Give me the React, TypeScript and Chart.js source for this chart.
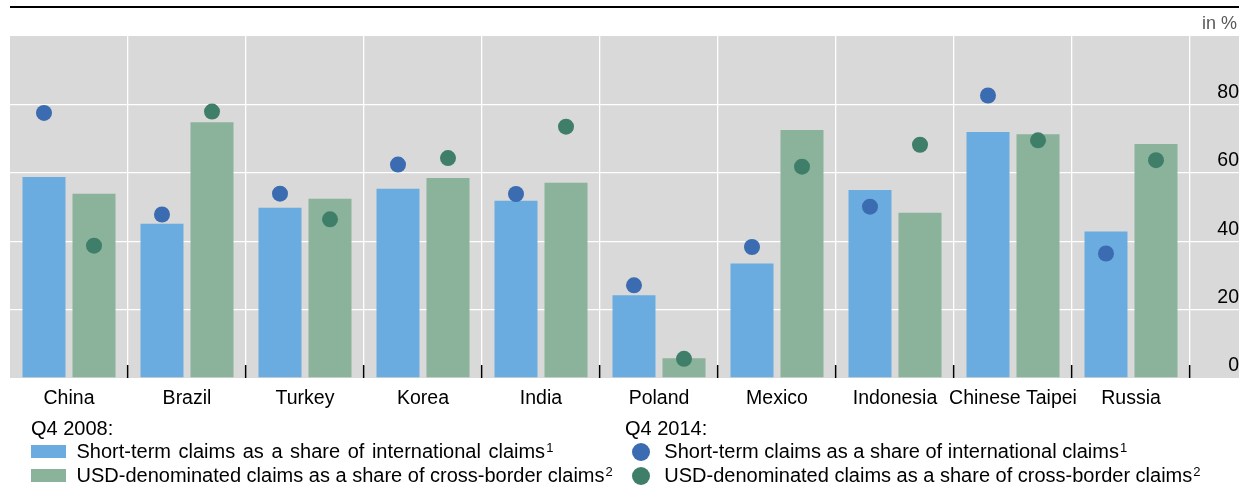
import React, { useEffect, useRef } from 'react';
import { Chart, registerables } from 'chart.js';

Chart.register(...registerables);

// ---------- data ----------
const categories = ['China', 'Brazil', 'Turkey', 'Korea', 'India', 'Poland', 'Mexico', 'Indonesia', 'Chinese Taipei', 'Russia'];
const shortTerm2008 = [58.8, 45.1, 49.8, 55.3, 51.8, 24.2, 33.5, 55.0, 71.9, 42.8];
const usd2008 = [53.9, 74.8, 52.4, 58.5, 57.1, 5.8, 72.5, 48.3, 71.3, 68.4];
const shortTerm2014 = [77.5, 47.8, 53.9, 62.4, 53.8, 27.1, 38.3, 50.1, 82.6, 36.4];
const usd2014 = [38.7, 77.9, 46.4, 64.3, 73.5, 5.6, 61.8, 68.2, 69.5, 63.7];
const yTicks = [0, 20, 40, 60, 80];
const yMin = 0;
const yMax = 100;

const legendShort = 'Short-term claims as a share of international claims';
const legendUsd = 'USD-denominated claims as a share of cross-border claims';

// ---------- style ----------
const FONT = "'Liberation Sans', Arial, Helvetica, sans-serif";
const BLUE_BAR = '#6aace0';
const GREEN_BAR = '#8bb29b';
const BLUE_DOT = '#3b6bb0';
const GREEN_DOT = '#3f7f6a';
const PANEL = '#d9d9d9';
const TRANSPARENT = 'rgba(0,0,0,0)';
const GROUP_SHIFT = 0.2119; // half distance between the paired marks, in category units
const BAR_PCT = 0.86;

// x positions (category index +/- shift) derived from the category list
const leftPos = (i: number) => i - GROUP_SHIFT;
const rightPos = (i: number) => i + GROUP_SHIFT;
const isBoundary = (v: number) => Math.abs(v - Math.round(v)) > 0.25;

const bgPlugin = {
  id: 'panelBg',
  beforeDraw(chart: any) {
    const { ctx, chartArea } = chart;
    ctx.save();
    ctx.fillStyle = '#ffffff';
    ctx.fillRect(0, 0, chart.width, chart.height);
    ctx.fillStyle = PANEL;
    ctx.fillRect(chartArea.left, chartArea.top, chart.width - chartArea.left, chartArea.bottom - chartArea.top);
    ctx.fillStyle = '#000000';
    ctx.fillRect(chartArea.left, 6, chart.width - chartArea.left, 2);
    ctx.restore();
  },
};

export default function App() {
  const canvasRef = useRef<HTMLCanvasElement | null>(null);

  useEffect(() => {
    document.body.style.margin = '0';
    const canvas = canvasRef.current;
    if (!canvas) return;
    const chart = new Chart(canvas, {
      type: 'bar',
      data: {
        datasets: [
          {
            type: 'bar',
            label: 'Q4 2008: ' + legendShort,
            data: shortTerm2008.map((v, i) => ({ x: leftPos(i), y: v })),
            backgroundColor: BLUE_BAR,
            borderWidth: 0,
            grouped: false,
            categoryPercentage: 1,
            barPercentage: BAR_PCT,
            order: 2,
          },
          {
            type: 'bar',
            label: 'Q4 2008: ' + legendUsd,
            data: usd2008.map((v, i) => ({ x: rightPos(i), y: v })),
            backgroundColor: GREEN_BAR,
            borderWidth: 0,
            grouped: false,
            categoryPercentage: 1,
            barPercentage: BAR_PCT,
            order: 2,
          },
          {
            type: 'scatter',
            label: 'Q4 2014: ' + legendShort,
            data: shortTerm2014.map((v, i) => ({ x: leftPos(i), y: v })),
            backgroundColor: BLUE_DOT,
            pointBackgroundColor: BLUE_DOT,
            pointBorderWidth: 0,
            pointRadius: 8,
            grouped: false,
            order: 1,
          },
          {
            type: 'scatter',
            label: 'Q4 2014: ' + legendUsd,
            data: usd2014.map((v, i) => ({ x: rightPos(i), y: v })),
            backgroundColor: GREEN_DOT,
            pointBackgroundColor: GREEN_DOT,
            pointBorderWidth: 0,
            pointRadius: 8,
            grouped: false,
            order: 1,
          },
        ] as any,
      },
      options: {
        responsive: false,
        maintainAspectRatio: false,
        animation: false,
        devicePixelRatio: 1,
        layout: { padding: { top: 36, left: 10, right: 0, bottom: 78 } },
        plugins: {
          legend: { display: false },
          tooltip: { enabled: false },
        },
        scales: {
          x: {
            type: 'linear',
            position: 'bottom',
            min: -0.5,
            max: categories.length - 0.5,
            offset: false,
            border: { display: false },
            afterBuildTicks: (s: any) => {
              const t: any[] = [];
              for (let i = 0; i <= categories.length * 2; i++) t.push({ value: -0.5 + i / 2 });
              s.ticks = t;
            },
            grid: {
              offset: false,
              color: (c: any) =>
                c.tick && isBoundary(c.tick.value) && c.index !== 0 ? '#ffffff' : TRANSPARENT,
              lineWidth: 1.3,
              drawTicks: true,
              tickLength: -13,
              tickColor: (c: any) =>
                c.tick && isBoundary(c.tick.value) && c.index !== 0 ? '#000000' : TRANSPARENT,
              tickWidth: 1.5,
            },
            ticks: {
              autoSkip: false,
              maxRotation: 0,
              minRotation: 0,
              padding: 22,
              color: '#000000',
              font: { family: FONT, size: 19.5 },
              callback: (v: any) => (isBoundary(v) ? '' : categories[Math.round(v)] ?? ''),
            },
            afterFit: (s: any) => {
              s.height = 30;
              s.paddingLeft = 0;
              s.paddingRight = 0;
            },
          },
          y: {
            type: 'linear',
            position: 'right',
            min: yMin,
            max: yMax,
            border: { display: false },
            afterBuildTicks: (s: any) => {
              s.ticks = yTicks.map((v) => ({ value: v }));
            },
            grid: {
              color: (c: any) => (c.tick && c.tick.value !== 0 ? '#ffffff' : TRANSPARENT),
              lineWidth: 1.3,
              drawTicks: true,
              tickLength: 49,
              tickColor: (c: any) => (c.tick && c.tick.value !== 0 ? '#ffffff' : TRANSPARENT),
              tickWidth: 1.3,
            },
            ticks: {
              crossAlign: 'far',
              padding: -28,
              labelOffset: -12,
              color: '#000000',
              font: { family: FONT, size: 19.5 },
              callback: (v: any) => String(v),
            },
            afterFit: (s: any) => {
              s.width = 49;
              s.paddingTop = 0;
              s.paddingBottom = 0;
            },
          },
        },
      } as any,
      plugins: [bgPlugin],
    });
    return () => chart.destroy();
  }, []);

  const textRow: React.CSSProperties = {
    position: 'absolute',
    fontSize: 20,
    lineHeight: '20px',
    color: '#000',
    whiteSpace: 'nowrap',
  };
  const sup: React.CSSProperties = { fontSize: 13, position: 'relative', top: -6, marginLeft: 1, lineHeight: 0 };

  return (
    <div style={{ position: 'fixed', left: 0, top: 0, width: 1239, height: 486, fontFamily: FONT, background: '#fff' }}>
      <canvas ref={canvasRef} width={1239} height={486} style={{ position: 'absolute', left: 0, top: 0, width: 1239, height: 486 }} />
      <div style={{ position: 'absolute', right: 2, top: 14, fontSize: 18, lineHeight: '18px', color: '#595959', whiteSpace: 'nowrap' }}>in %</div>

      <div style={{ ...textRow, left: 31, top: 417.5 }}>Q4 2008:</div>
      <div style={{ position: 'absolute', left: 31, top: 445, width: 35, height: 13, background: BLUE_BAR }} />
      <div style={{ ...textRow, left: 76.5, top: 441, wordSpacing: '2px' }}>
        {legendShort}
        <span style={sup}>1</span>
      </div>
      <div style={{ position: 'absolute', left: 31, top: 469, width: 35, height: 13, background: GREEN_BAR }} />
      <div style={{ ...textRow, left: 76.5, top: 465 }}>
        {legendUsd}
        <span style={sup}>2</span>
      </div>

      <div style={{ ...textRow, left: 625, top: 417.5 }}>Q4 2014:</div>
      <div style={{ position: 'absolute', left: 632, top: 443, width: 18, height: 18, borderRadius: 9, background: BLUE_DOT }} />
      <div style={{ ...textRow, left: 664.3, top: 441 }}>
        {legendShort}
        <span style={sup}>1</span>
      </div>
      <div style={{ position: 'absolute', left: 632, top: 467, width: 18, height: 18, borderRadius: 9, background: GREEN_DOT }} />
      <div style={{ ...textRow, left: 664.3, top: 465 }}>
        {legendUsd}
        <span style={sup}>2</span>
      </div>
    </div>
  );
}
